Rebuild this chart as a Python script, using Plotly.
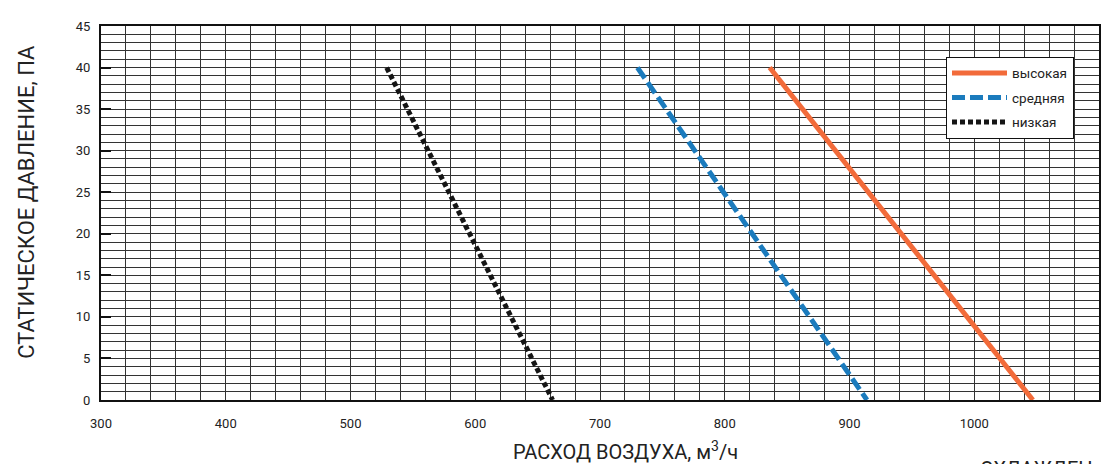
import plotly.graph_objects as go

# Data
pressure = [40, 0]                      # Pa
flow_high = [836, 1047]                 # m3/h, "высокая"
flow_mid = [730, 914]                   # m3/h, "средняя"
flow_low = [529, 662]                   # m3/h, "низкая"
series_names = ["высокая", "средняя", "низкая"]
x_ticks = [300, 400, 500, 600, 700, 800, 900, 1000, 1100]
y_ticks = [0, 5, 10, 15, 20, 25, 30, 35, 40, 45]

FONT = "Roboto, Noto Sans, sans-serif"

fig = go.Figure()
fig.add_trace(go.Scatter(x=flow_high, y=pressure, mode="lines", name=series_names[0],
                         legendgroup="a",
                         line=dict(color="#F26B3A", width=5)))
fig.add_trace(go.Scatter(x=flow_mid, y=pressure, mode="lines", name=series_names[1],
                         legendgroup="b",
                         line=dict(color="#1B7BBD", width=5, dash="13px,5px")))
fig.add_trace(go.Scatter(x=flow_low, y=pressure, mode="lines", name=series_names[2],
                         legendgroup="c",
                         line=dict(color="#151515", width=5, dash="5px,3px")))

# page body has an 8px margin: figure is placed at (8, 8) in the window
fig.update_layout(
    width=1104, height=456,
    margin=dict(l=93, r=13, t=11, b=64),
    paper_bgcolor="white", plot_bgcolor="white",
    font=dict(family=FONT, color="#222", size=12),
    legend=dict(x=0.8467, y=0.918, xanchor="left", yanchor="top",
                bgcolor="white", bordercolor="#111", borderwidth=1,
                font=dict(size=13.5, family=FONT, color="#222"),
                tracegroupgap=4, itemwidth=55),
    xaxis=dict(range=[300, 1100], tickvals=x_ticks, showgrid=True,
               gridcolor="#333", gridwidth=1,
               minor=dict(dtick=20, tick0=300, showgrid=True, gridcolor="#333", gridwidth=1),
               showline=True, linecolor="#111", linewidth=2, mirror=True,
               ticks="", ticklabelstandoff=10, zeroline=False,
               tickfont=dict(size=13, family=FONT, color="#222")),
    yaxis=dict(range=[0, 45], tickvals=y_ticks, showgrid=True,
               gridcolor="#333", gridwidth=1,
               minor=dict(dtick=1, tick0=0, showgrid=True, gridcolor="#333", gridwidth=1),
               showline=True, linecolor="#111", linewidth=2, mirror=True,
               ticks="inside", ticklen=10, tickwidth=2, tickcolor="#111",
               ticklabelstandoff=6, zeroline=False,
               tickfont=dict(size=13, family=FONT, color="#222")),
)

fig.add_annotation(text="СТАТИЧЕСКОЕ ДАВЛЕНИЕ, ПА", xref="paper", yref="paper",
                   x=-0.0741, y=0.53, textangle=-90, showarrow=False,
                   xanchor="center", yanchor="middle",
                   font=dict(size=22, family=FONT, color="#222"))
fig.add_annotation(text="РАСХОД ВОЗДУХА, м<sup>3</sup>/ч", xref="paper", yref="paper",
                   x=0.526, y=-0.1365, showarrow=False,
                   xanchor="center", yanchor="middle",
                   font=dict(size=20, family=FONT, color="#222"))
fig.add_annotation(text="ОХЛАЖДЕН", xref="paper", yref="paper",
                   x=0.8788, y=-0.147, showarrow=False,
                   xanchor="left", yanchor="top",
                   font=dict(size=20, family=FONT, color="#222"))

fig.write_html("out.html")
